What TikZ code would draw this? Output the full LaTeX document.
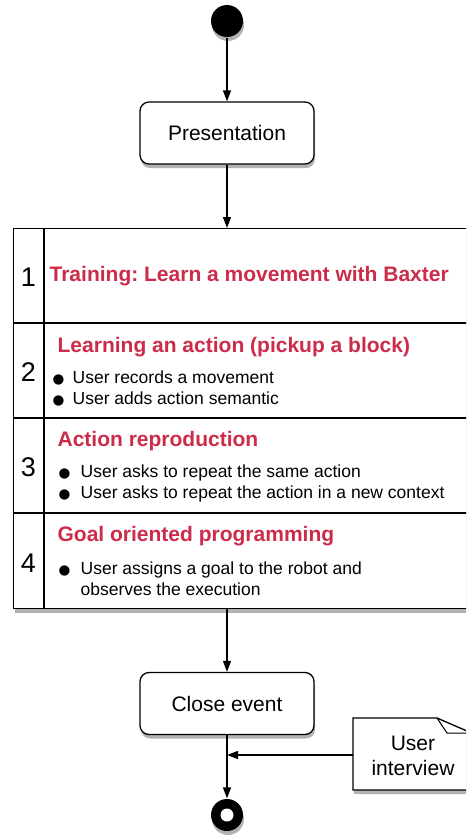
\documentclass[tikz,border=0pt]{standalone}
\usepackage{fontspec}
\setmainfont{Liberation Sans}
\newfontfamily\djv{DejaVu Sans}
\usetikzlibrary{arrows.meta,shadows}
\definecolor{headred}{RGB}{204,44,74}
\newcommand\bl[1]{\makebox[#1][l]{{\djv\fontsize{13.5}{21}\selectfont ●}}}
\frenchspacing
\begin{document}
\begin{tikzpicture}[x=1pt,y=-1pt,
  line width=1.3pt,
  arr/.style={-{Triangle[length=11pt,width=8pt]}},
  shad/.style={drop shadow={shadow xshift=1pt,shadow yshift=-4pt,opacity=0.3,fill=black}},
  act/.style={draw, rounded corners=9pt, fill=white, minimum width=174pt, minimum height=62pt, font=\fontsize{21}{25}\selectfont, shad},
  head/.style={anchor=west, text=headred, font=\fontsize{21}{25}\selectfont\bfseries, inner sep=0pt},
  num/.style={font=\fontsize{27}{30}\selectfont, inner sep=0pt},
  item/.style={anchor=west, align=left, font=\fontsize{17.5}{21}\selectfont, inner sep=0pt},
  blob/.style={circle, fill=black, minimum size=32pt, inner sep=0pt},
]
\clip (0,0) rectangle (466,838);
% start and presentation
\node[blob, shad] (start) at (227,21) {};
\node[act] (pres) at (227,133) {Presentation};
\draw[arr] (start) -- (pres);
% table
\node[draw, fill=white, shad, minimum width=480pt, minimum height=380pt, anchor=north west, inner sep=0pt] (table) at (13,228) {};
\draw (44,228) -- (44,608);
\draw (13,323) -- (490,323);
\draw (13,418) -- (490,418);
\draw (13,513) -- (490,513);
\draw[arr] (pres) -- (pres |- table.north);
% row texts
\node[num] (n1) at (28.5,277) {1};
\node[num] (n2) at (28.5,372) {2};
\node[num] (n3) at (28.5,467) {3};
\node[num] (n4) at (28.5,563) {4};
\node[head] (h1) at (49,276) {Training: Learn a movement with Baxter};
\node[head] (h2) at (57,347) {Learning an action (pickup a block)};
\node[head] (h3) at (57,441) {Action reproduction};
\node[head] (h4) at (57,536) {Goal oriented programming};
\node[item] (i2) at (52,388.5) {\bl{20pt}User records a movement\\\bl{20pt}User adds action semantic};
\node[item] (i3) at (58,483.5) {\bl{22pt}User asks to repeat the same action\\\bl{22pt}User asks to repeat the action in a new context};
\node[item] (i4) at (58,578.5) {\bl{22pt}User assigns a goal to the robot and\\\hspace*{22pt}observes the execution};
% close event
\node[act] (close) at (227,703.5) {Close event};
\draw[arr] (pres |- table.south) -- (close);
% end
\node[blob, shad] (end) at (227,815) {};
\node[circle, fill=white, minimum size=13pt, inner sep=0pt] (endin) at (end) {};
\draw[arr] (close) -- (end);
% note
\path[draw, fill=white, shad] (353,718) -- (437,718) -- (490,741) -- (490,790) -- (353,790) -- cycle;
\draw[line width=1pt] (437,718) -- (447,733) -- (480,733);
\node[align=center, font=\fontsize{21}{25}\selectfont, inner sep=0pt] (note) at (413,755.5) {User\\interview};
\coordinate (notel) at (353,755);
\draw[arr] (notel) -- (notel -| close);
\end{tikzpicture}
\end{document}
